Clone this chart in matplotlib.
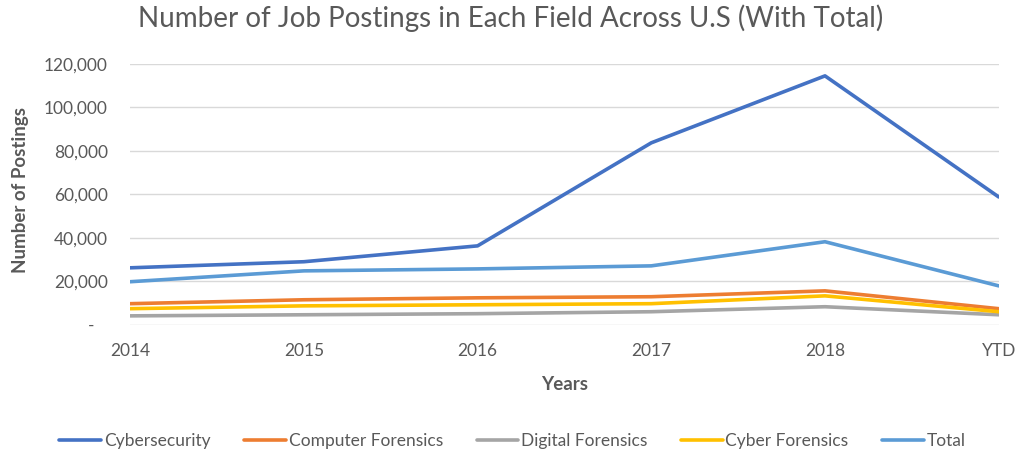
import matplotlib
matplotlib.use("Agg")
import matplotlib.pyplot as plt

years = ["2014", "2015", "2016", "2017", "2018", "YTD"]
cybersecurity = [26200, 29000, 36300, 83700, 114500, 58800]
computer_forensics = [9700, 11500, 12400, 12900, 15600, 7400]
digital_forensics = [4100, 4600, 5100, 6000, 8300, 4600]
cyber_forensics = [7400, 8700, 9200, 9700, 13300, 6000]
total = [19800, 24800, 25700, 27100, 38200, 17900]

series = [
    ("Cybersecurity", cybersecurity, "#4472C4"),
    ("Computer Forensics", computer_forensics, "#ED7D31"),
    ("Digital Forensics", digital_forensics, "#A5A5A5"),
    ("Cyber Forensics", cyber_forensics, "#FFC000"),
    ("Total", total, "#5B9BD5"),
]

plt.rcParams['font.family'] = ['Lato', 'DejaVu Sans']
fig = plt.figure(figsize=(10.17, 4.70), dpi=100)
ax = fig.add_axes([0.128, 0.309, 0.854, 0.555])

x = list(range(len(years)))
for name, vals, color in series:
    ax.plot(x, vals, color=color, lw=2.6, label=name, solid_capstyle='round', solid_joinstyle='round')

ax.set_xlim(0, len(years) - 1)
ax.set_ylim(0, 120000)
yt = list(range(0, 120001, 20000))
ax.set_yticks(yt)
ax.set_yticklabels(["-   " if v == 0 else f"{v:,}" for v in yt])
ax.set_xticks(x)
ax.set_xticklabels(years)
ax.tick_params(axis='both', length=0, labelsize=12.5, colors="#595959")
ax.tick_params(axis='y', pad=16)
ax.tick_params(axis='x', pad=13)
ax.grid(axis='y', color="#D9D9D9", lw=1)
ax.set_axisbelow(True)
for s in ax.spines.values():
    s.set_visible(False)

ax.set_xlabel("Years", fontsize=13.5, fontweight='bold', color="#595959")
ax.xaxis.set_label_coords(0.5, -0.197)
ax.set_ylabel("Number of Postings", fontsize=13.5, fontweight='bold', color="#595959")
ax.yaxis.set_label_coords(-0.116, 0.517)
fig.text(0.502, 0.962, "Number of Job Postings in Each Field Across U.S (With Total)",
         ha='center', va='center', fontsize=20, color="#595959")

fig.legend(loc='center', bbox_to_anchor=(0.504, 0.062), ncol=5, frameon=False,
           fontsize=12.5, labelcolor="#595959", handlelength=2.4, handletextpad=0.15,
           columnspacing=1.95)

fig.savefig("out.png", dpi=100)
